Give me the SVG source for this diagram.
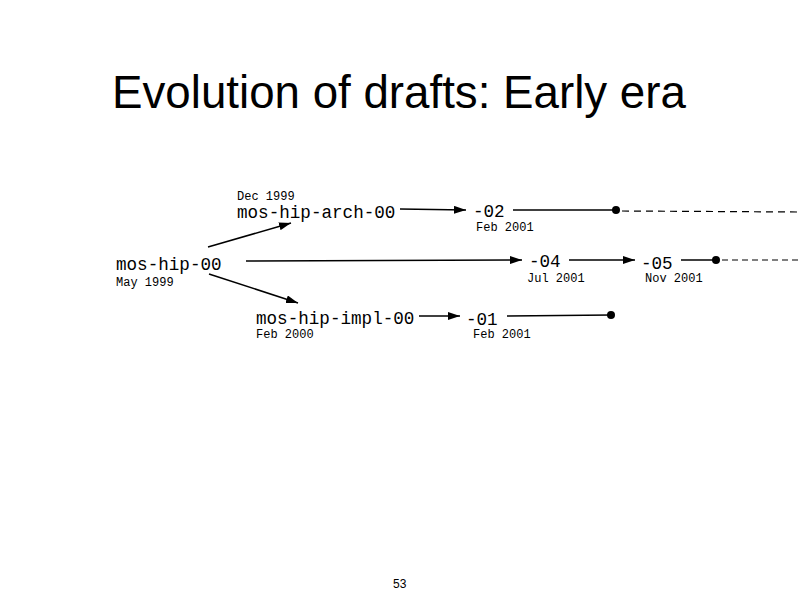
<svg xmlns="http://www.w3.org/2000/svg" width="800" height="600" viewBox="0 0 800 600">
<defs>
<marker id="ah" viewBox="0 0 12 8" refX="12" refY="4" markerWidth="12" markerHeight="8" markerUnits="userSpaceOnUse" orient="auto">
<path d="M0,0 L12,4 L0,8 Z" fill="#000"/>
</marker>
<style>
.title{font-family:"Liberation Sans",Arial,sans-serif;font-size:45.7px;fill:#000}
.name{font-family:"Liberation Mono","Courier New",monospace;font-size:17.6px;fill:#000}
.date{font-family:"Liberation Mono","Courier New",monospace;font-size:12px;fill:#000}
.page{font-family:"Liberation Sans",Arial,sans-serif;font-size:12px;fill:#000}
.ln{stroke:#000;stroke-width:1.5;fill:none}
.arr{stroke:#000;stroke-width:1.5;fill:none;marker-end:url(#ah)}
.dash{stroke:#000;stroke-width:1.2;fill:none;stroke-dasharray:7 5}
</style>
</defs>
<rect width="800" height="600" fill="#fff"/>
<text class="title" x="112" y="108">Evolution of drafts: Early era</text>

<g id="connectors">
<line class="arr" x1="208" y1="247" x2="291" y2="223"/>
<line class="arr" x1="209" y1="274" x2="298" y2="303"/>
<line class="arr" x1="400" y1="209" x2="466" y2="210"/>
<line class="ln" x1="513" y1="210" x2="616" y2="210"/>
<circle cx="616" cy="210" r="4" fill="#000"/>
<line class="dash" x1="622" y1="211" x2="800" y2="212"/>
<line class="arr" x1="246" y1="261" x2="522" y2="260"/>
<line class="arr" x1="569" y1="260" x2="635" y2="260"/>
<line class="ln" x1="681" y1="260" x2="716" y2="260"/>
<circle cx="716" cy="260" r="4" fill="#000"/>
<line class="dash" x1="722" y1="260" x2="800" y2="260" style="stroke-dasharray:6 4"/>
<line class="arr" x1="419" y1="316" x2="460" y2="316"/>
<line class="ln" x1="507" y1="316" x2="611" y2="315"/>
<circle cx="611" cy="315" r="4" fill="#000"/>
</g>

<g id="mos-hip-00">
<text class="name" x="116" y="270">mos-hip-00</text>
<text class="date" x="116" y="286">May 1999</text>
</g>
<g id="mos-hip-arch-00">
<text class="date" x="237" y="200">Dec 1999</text>
<text class="name" x="237" y="218">mos-hip-arch-00</text>
</g>
<g id="mos-hip-impl-00">
<text class="name" x="256" y="324">mos-hip-impl-00</text>
<text class="date" x="256" y="338">Feb 2000</text>
</g>
<g id="arch-02">
<text class="name" x="473" y="217">-02</text>
<text class="date" x="476" y="231">Feb 2001</text>
</g>
<g id="hip-04">
<text class="name" x="529" y="267">-04</text>
<text class="date" x="527" y="282">Jul 2001</text>
</g>
<g id="hip-05">
<text class="name" x="641" y="269">-05</text>
<text class="date" x="645" y="282">Nov 2001</text>
</g>
<g id="impl-01">
<text class="name" x="466" y="325">-01</text>
<text class="date" x="473" y="338">Feb 2001</text>
</g>

<text class="page" x="393" y="588">53</text>
</svg>
